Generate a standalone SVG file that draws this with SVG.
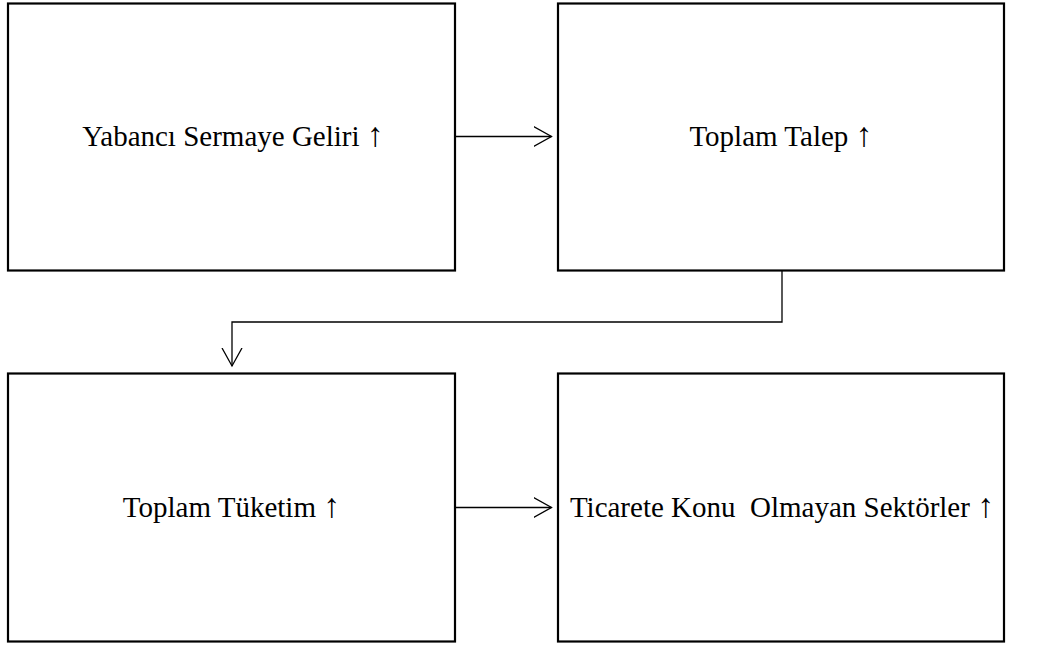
<svg xmlns="http://www.w3.org/2000/svg" width="1041" height="646" viewBox="0 0 1041 646">
<style>
.box{fill:#fff;stroke:#000;stroke-width:2.2}
.lbl{font-family:"Liberation Serif","Times New Roman",serif;font-size:29px;fill:#000;white-space:pre}
.ar{font-size:34px}
.conn{fill:none;stroke:#000;stroke-width:1.3}
</style>
<defs>
<marker id="ah" viewBox="0 0 20 22" refX="18" refY="11" markerWidth="20" markerHeight="22" markerUnits="userSpaceOnUse" orient="auto">
<path d="M0,1 L18,11 L0,21" fill="none" stroke="#000" stroke-width="1.3"/>
</marker>
</defs>
<rect width="1041" height="646" fill="#fff"/>
<g id="n1"><rect class="box" x="8" y="3.5" width="447" height="267"/><text class="lbl" x="233" y="146" text-anchor="middle">Yabancı Sermaye Geliri <tspan class="ar">↑</tspan></text></g>
<g id="n2"><rect class="box" x="558" y="3.5" width="446" height="267"/><text class="lbl" x="781" y="146" text-anchor="middle">Toplam Talep <tspan class="ar">↑</tspan></text></g>
<g id="n3"><rect class="box" x="8" y="373.5" width="447" height="268"/><text class="lbl" x="231.5" y="517" text-anchor="middle">Toplam Tüketim <tspan class="ar">↑</tspan></text></g>
<g id="n4"><rect class="box" x="558" y="373.5" width="446" height="268"/><text class="lbl" x="782" y="517" text-anchor="middle" xml:space="preserve">Ticarete Konu  Olmayan Sektörler <tspan class="ar">↑</tspan></text></g>
<g id="connectors">
<path class="conn" d="M455,136.5 H551.5" marker-end="url(#ah)"/>
<path class="conn" d="M782,270.5 V322 H232 V366" marker-end="url(#ah)"/>
<path class="conn" d="M455,507.5 H551.5" marker-end="url(#ah)"/>
</g>
</svg>
